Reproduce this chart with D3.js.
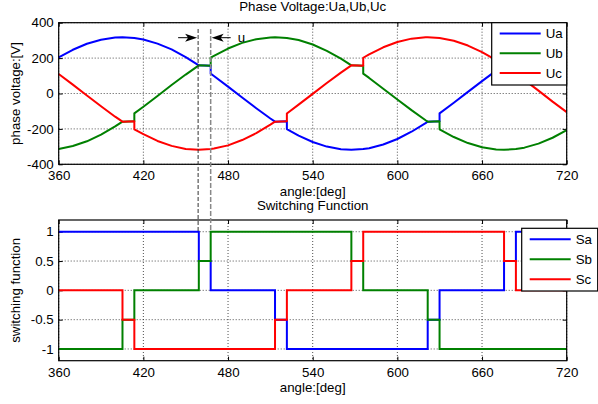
<!DOCTYPE html>
<html>
<head>
<meta charset="utf-8">
<script src="https://cdn.jsdelivr.net/npm/d3@7"></script>
<style>
  body { margin: 0; background: #fff; }
  svg { display: block; font-family: "Liberation Sans", Arial, sans-serif; }
  .grid { stroke: #222; stroke-width: 0.8; stroke-dasharray: 1 2; }
  .axis text { font-size: 13.3px; fill: #000; font-family: "Liberation Sans", Arial, sans-serif; }
  .axis line { stroke: #000; }
  .axis .domain { display: none; }
  .lbl { font-size: 13.3px; fill: #000; }
</style>
</head>
<body>
<div id="chart"></div>
<script>
////////////////////////////////////////////////////////////////////
////////////////////////////  Data  ////////////////////////////////
// phase voltages, angle in deg (repeated angle = jump at end of overlap)
const angle = [360, 370, 380, 390, 400, 405.2, 413.6, 413.6, 420, 430, 440, 450,
  459.3, 467.7, 467.7, 470, 480, 490, 500, 510, 513.3, 521.7, 521.7, 530, 540, 550,
  560, 567.4, 575.8, 575.8, 580, 590, 600, 610, 620, 621.5, 629.9, 629.9, 640, 650,
  660, 670, 675.6, 684, 684, 690, 700, 710, 720];
const ua = [204, 247, 281, 304, 316, 318, 314, 314, 305, 282, 249, 206,
  159, 157, 112, 99, 39, -23, -83, -141, -159, -157, -201, -238, -274, -300,
  -315, -318, -314, -314, -309, -288, -257, -216, -167, -159, -157, -112, -52, 9,
  70, 129, 159, 157, 202, 229, 267, 295, 313];
const ub = [-313, -297, -270, -232, -186, -159, -157, -112, -75, -14, 48, 107,
  159, 157, 202, 212, 254, 286, 307, 317, 318, 314, 314, 302, 277, 241,
  197, 159, 157, 112, 88, 27, -34, -94, -151, -159, -157, -202, -246, -280,
  -304, -316, -318, -314, -314, -306, -283, -250, -207];
const uc = [110, 50, -11, -72, -131, -159, -157, -202, -230, -268, -296, -313,
  -318, -314, -314, -311, -293, -263, -224, -176, -159, -157, -113, -63, -2, 59,
  118, 159, 157, 202, 221, 261, 291, 310, 318, 318, 314, 314, 298, 271,
  234, 188, 159, 157, 112, 77, 16, -46, -105];

// switching functions (step after)
const sAngle = [360, 405.2, 413.6, 459.3, 467.7, 513.3, 521.7, 567.4, 575.8, 621.5, 629.9, 675.6, 684, 720];
const sa = [1, 1, 1, 0.5, 0, -0.5, -1, -1, -1, -0.5, 0, 0.5, 1, 1];
const sb = [-1, -0.5, 0, 0.5, 1, 1, 1, 0.5, 0, -0.5, -1, -1, -1, -1];
const sc = [0, -0.5, -1, -1, -1, -0.5, 0, 0.5, 1, 1, 1, 0.5, 0, 0];

// ticks
const xTicks = [360, 420, 480, 540, 600, 660, 720];
const vTicks = [-400, -200, 0, 200, 400];
const sTicks = [-1, -0.5, 0, 0.5, 1];

// overlap interval marked with dashed lines
const markAngle = [458.8, 467.7];

const colors = ["#0000ff", "#008000", "#ff0000"];

////////////////////////////////////////////////////////////////////
////////////////////////////  Init  ////////////////////////////////
const width = 598, height = 404;
const svg = d3.select("#chart").append("svg").attr("width", width).attr("height", height);

const left = 58.7, right = 566.7;
const top1 = 22.7, bot1 = 164.3, top2 = 220, bot2 = 360.7;

const x = d3.scaleLinear().domain([360, 720]).range([left, right]);
const yV = d3.scaleLinear().domain([-400, 400]).range([bot1, top1]);
const yS = d3.scaleLinear().domain([-1.2, 1.2]).range([bot2, top2]);

// frame: grid, ticks, tick labels
const drawFrame = (y, yTicks, top, bot) => {
  const g = svg.append("g");
  g.selectAll(".gx").data(xTicks).enter().append("line")
    .attr("class", "grid")
    .attr("x1", (d) => x(d)).attr("x2", (d) => x(d))
    .attr("y1", top).attr("y2", bot);
  g.selectAll(".gy").data(yTicks).enter().append("line")
    .attr("class", "grid")
    .attr("x1", left).attr("x2", right)
    .attr("y1", (d) => y(d)).attr("y2", (d) => y(d));

  svg.append("g").attr("class", "axis")
    .attr("transform", `translate(0,${bot})`)
    .call(d3.axisBottom(x).tickValues(xTicks).tickSize(-4).tickPadding(6.5).tickFormat((d) => String(d)));
  svg.append("g").attr("class", "axis")
    .attr("transform", `translate(0,${top})`)
    .call(d3.axisTop(x).tickValues(xTicks).tickSize(-4).tickFormat(() => ""));
  svg.append("g").attr("class", "axis")
    .attr("transform", `translate(${left},0)`)
    .call(d3.axisLeft(y).tickValues(yTicks).tickSize(-4).tickPadding(5).tickFormat((d) => String(d)));
  svg.append("g").attr("class", "axis")
    .attr("transform", `translate(${right},0)`)
    .call(d3.axisRight(y).tickValues(yTicks).tickSize(-4).tickFormat(() => ""));
};

const drawBox = (top, bot) => {
  svg.append("rect")
    .attr("x", left).attr("y", top)
    .attr("width", right - left).attr("height", bot - top)
    .attr("fill", "none").attr("stroke", "#000").attr("stroke-width", 1.2);
};

const legend = (x0, y0, w, h, names, rowY) => {
  const g = svg.append("g");
  g.append("rect").attr("x", x0).attr("y", y0).attr("width", w).attr("height", h)
    .attr("fill", "#fff").attr("stroke", "#000").attr("stroke-width", 1.2);
  names.forEach((n, i) => {
    g.append("line")
      .attr("x1", x0 + 8).attr("x2", x0 + 49)
      .attr("y1", rowY[i]).attr("y2", rowY[i])
      .attr("stroke", colors[i]).attr("stroke-width", 2);
    g.append("text").attr("class", "lbl")
      .attr("x", x0 + 54).attr("y", rowY[i]).attr("dy", "0.35em")
      .text(n);
  });
};

const label = (txt, px, py, rot) => {
  svg.append("text").attr("class", "lbl")
    .attr("text-anchor", "middle")
    .attr("transform", `translate(${px},${py})` + (rot ? " rotate(-90)" : ""))
    .text(txt);
};

////////////////////////////////////////////////////////////////////
////////////////////////////  Top: voltages  ///////////////////////
drawFrame(yV, vTicks, top1, bot1);

const vLine = (vals) => d3.line()
  .x((d, i) => x(angle[i]))
  .y((d, i) => yV(vals[i]));

[ua, ub, uc].forEach((vals, k) => {
  svg.append("path")
    .datum(vals)
    .attr("d", vLine(vals))
    .attr("fill", "none")
    .attr("stroke", colors[k])
    .attr("stroke-width", 2)
    .attr("stroke-linejoin", "round");
});

drawBox(top1, bot1);
legend(491.7, top1, 75, 62.3, ["Ua", "Ub", "Uc"], [33.5, 53.3, 73]);

label("Phase Voltage:Ua,Ub,Uc", (left + right) / 2, 11);
label("angle:[deg]", (left + right) / 2, 196);
label("phase voltage:[V]", 20, (top1 + bot1) / 2, true);

////////////////////////////////////////////////////////////////////
////////////////////////////  Bottom: switching  ///////////////////
drawFrame(yS, sTicks, top2, bot2);

const sLine = (vals) => d3.line()
  .curve(d3.curveStepAfter)
  .x((d, i) => x(sAngle[i]))
  .y((d, i) => yS(vals[i]));

[sa, sb, sc].forEach((vals, k) => {
  svg.append("path")
    .datum(vals)
    .attr("d", sLine(vals))
    .attr("fill", "none")
    .attr("stroke", colors[k])
    .attr("stroke-width", 2);
});

drawBox(top2, bot2);
legend(521.7, 228.3, 76, 62.7, ["Sa", "Sb", "Sc"], [239.3, 259.3, 279.3]);

label("Switching Function", (left + right) / 2, 209.5);
label("angle:[deg]", (left + right) / 2, 392);
label("switching function", 19.5, (top2 + bot2) / 2, true);

////////////////////////////////////////////////////////////////////
////////////////////////////  Overlap annotation  //////////////////
const m0 = x(markAngle[0]), m1 = x(markAngle[1]);
const dashTop = 29, dashBot = yS(1);

svg.append("line")
  .attr("x1", m0).attr("x2", m0).attr("y1", dashTop).attr("y2", dashBot)
  .attr("stroke", "#333").attr("stroke-width", 1).attr("stroke-dasharray", "4 2");
svg.append("line")
  .attr("x1", m1).attr("x2", m1).attr("y1", dashTop).attr("y2", dashBot)
  .attr("stroke", "#888").attr("stroke-width", 1.5).attr("stroke-dasharray", "5 2");

const arrowY = 37.7;
// arrow pointing to (tx, arrowY), dir = +1 right, -1 left
const arrow = (tx, dir) => {
  svg.append("line")
    .attr("x1", tx - dir * 19).attr("x2", tx - dir * 8)
    .attr("y1", arrowY).attr("y2", arrowY)
    .attr("stroke", "#000").attr("stroke-width", 1);
  svg.append("path")
    .attr("d", `M${tx},${arrowY} L${tx - dir * 12},${arrowY - 4} L${tx - dir * 9},${arrowY} L${tx - dir * 12},${arrowY + 4} Z`)
    .attr("fill", "#000");
};
arrow(m0 - 1, 1);
arrow(m1 + 1, -1);

svg.append("text").attr("class", "lbl")
  .attr("x", m1 + 27).attr("y", 42)
  .text("u");
</script>
</body>
</html>
